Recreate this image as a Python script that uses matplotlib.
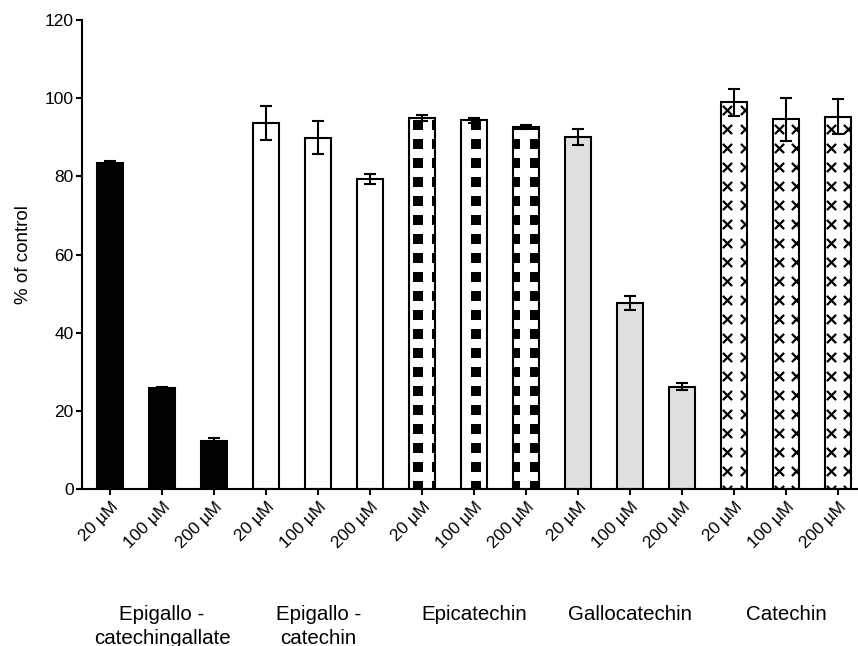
import numpy as np
import matplotlib
matplotlib.use("Agg")
import matplotlib.pyplot as plt

plt.rcParams["font.family"] = ["Liberation Sans", "DejaVu Sans"]

# Compounds and concentrations
groups = ["Epigallo -\ncatechingallate", "Epigallo -\ncatechin", "Epicatechin",
          "Gallocatechin", "Catechin"]
doses = ["20 µM", "100 µM", "200 µM"]

# Mean viability (% of control) and error per compound, per dose
egcg_vals = [83.5, 25.8, 12.2]
egcg_err = [0.5, 0.4, 0.8]
egc_vals = [93.7, 89.9, 79.4]
egc_err = [4.3, 4.2, 1.3]
ec_vals = [95.0, 94.3, 92.7]
ec_err = [0.8, 0.7, 0.5]
gc_vals = [90.0, 47.7, 26.2]
gc_err = [2.0, 1.8, 0.9]
cat_vals = [98.9, 94.6, 95.3]
cat_err = [3.4, 5.5, 4.4]

series = [(egcg_vals, egcg_err, "black", None),
          (egc_vals, egc_err, "white", None),
          (ec_vals, ec_err, "white", "squares"),
          (gc_vals, gc_err, "#e0e0e0", None),
          (cat_vals, cat_err, "white", "crosses")]

fig = plt.figure(figsize=(8.58, 6.46), dpi=100)
ax = fig.add_axes([0.0956, 0.243, 0.9044, 0.726])

bar_w = 0.5
lw = 1.5
ax.set_xlim(-0.54, 14.38)
ax.set_ylim(0, 120)

ppx = 52.0   # pixels per x unit
ppy = 3.91   # pixels per y unit

pos = 0
for vals, errs, color, pattern in series:
    xs = np.arange(pos, pos + len(vals))
    bars = ax.bar(xs, vals, width=bar_w, color=color, edgecolor="none", zorder=1)
    for b in bars:
        x0 = b.get_x()
        x1 = x0 + b.get_width()
        h = b.get_height()
        if pattern == "squares":
            gx = np.arange(-0.54 + 4 / ppx, 14.4, 19.5 / ppx)
            gx = gx[(gx > x0 - 0.2) & (gx < x1 + 0.2)]
            gy = np.arange(25.0 - 19 / ppy * 6, h + 5, 19 / ppy)
            X, Y = np.meshgrid(gx, gy)
            sc = ax.scatter(X.ravel(), Y.ravel(), marker="s", s=7.0 ** 2,
                            color="black", linewidths=0, zorder=2)
            sc.set_clip_path(b)
        elif pattern == "crosses":
            gx = np.arange(-0.54 + 5 / ppx, 14.6, 17.3 / ppx)
            gx = gx[(gx > x0 - 0.2) & (gx < x1 + 0.2)]
            gy = np.arange(24.0 - 19 / ppy * 6, h + 5, 19 / ppy)
            X, Y = np.meshgrid(gx, gy)
            sc = ax.scatter(X.ravel(), Y.ravel(), marker="x", s=6.6 ** 2,
                            color="black", linewidths=1.6, zorder=2)
            sc.set_clip_path(b)
    ax.bar(xs, vals, width=bar_w, color="none", edgecolor="black",
           linewidth=lw, zorder=3)
    ax.errorbar(xs, vals, yerr=errs, fmt="none", ecolor="black",
                elinewidth=1.5, capsize=4.3, capthick=1.5, zorder=4)
    pos += len(vals)

n = pos
ax.set_xticks(np.arange(n))
ax.set_xticklabels(doses * len(groups), rotation=45, ha="right",
                   rotation_mode="anchor", fontsize=12.5)
ax.set_yticks(np.arange(0, 121, 20))
ax.tick_params(axis="y", labelsize=12.5, length=4.5, width=1.5, pad=1.5)
ax.tick_params(axis="x", length=4.5, width=1.5, pad=3)
ax.set_ylabel("% of control", fontsize=13.5, labelpad=9)

for s in ["top", "right"]:
    ax.spines[s].set_visible(False)
for s in ["left", "bottom"]:
    ax.spines[s].set_linewidth(1.5)

# Compound names below each block of three bars
for i, g in enumerate(groups):
    cx = 3 * i + 1
    ax.text(cx, -29.7, g, ha="center", va="top", fontsize=14.8,
            linespacing=1.3, transform=ax.transData, clip_on=False)

fig.savefig("out.png", dpi=100)
